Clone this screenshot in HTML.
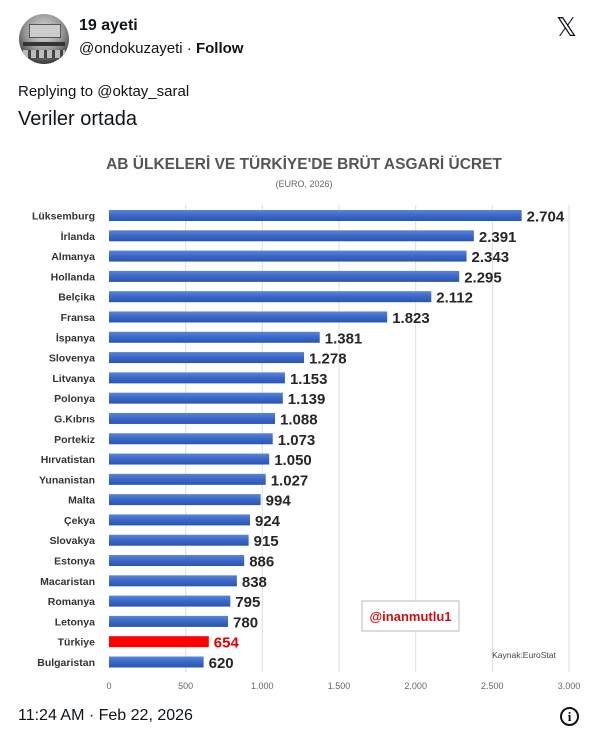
<!DOCTYPE html>
<html><head><meta charset="utf-8"><style>
body{margin:0;width:600px;height:747px;background:#fff;font-family:"Liberation Sans",sans-serif;overflow:hidden;position:relative}
.a{position:absolute;white-space:nowrap;color:#0f1419}
</style></head><body>
<div style="position:absolute;left:19px;top:14px;width:50px;height:50px;border-radius:50%;background:radial-gradient(circle at 50% 35%,#ddd 0,#999 45%,#444 75%,#222 100%);overflow:hidden">
<div style="position:absolute;left:10px;top:10px;width:30px;height:12px;background:#ccc;border:1px solid #555"></div>
<div style="position:absolute;left:4px;top:28px;width:42px;height:4px;background:#333"></div>
<div style="position:absolute;left:4px;top:36px;width:42px;height:8px;background:repeating-linear-gradient(90deg,#bbb 0 5px,#444 5px 8px)"></div>
</div>
<div class="a" style="left:79px;top:17px;font-size:16px;font-weight:bold">19 ayeti</div>
<div class="a" style="left:79px;top:40px;font-size:15px">@ondokuzayeti · <b>Follow</b></div>
<div class="a" style="left:556px;top:12px;font-size:26px">𝕏</div>
<div class="a" style="left:18px;top:83px;font-size:15px">Replying to @oktay_saral</div>
<div class="a" style="left:18px;top:108px;font-size:20px">Veriler ortada</div>
<div class="a" style="left:18px;top:707px;font-size:16px">11:24 AM · Feb 22, 2026</div>
<div style="position:absolute;left:560px;top:707px;width:15px;height:15px;border:2px solid #0f1419;border-radius:50%;text-align:center;font:bold 13px/15px 'Liberation Serif',serif">i</div>
<svg style="position:absolute;left:0;top:0" width="600" height="747" font-family="Liberation Sans, DejaVu Sans, sans-serif">
<defs><linearGradient id="b" x1="0" y1="0" x2="0" y2="1"><stop offset="0" stop-color="#5b85d6"/><stop offset="0.5" stop-color="#3a67c8"/><stop offset="1" stop-color="#2a54b0"/></linearGradient></defs>
<text x="304" y="169" text-anchor="middle" font-size="15.5" font-weight="bold" fill="#555">AB ÜLKELERİ VE TÜRKİYE'DE BRÜT ASGARİ ÜCRET</text>
<text x="304" y="187" text-anchor="middle" font-size="9" fill="#666">(EURO, 2026)</text>
<g stroke="#ddd" stroke-width="1">
<line x1="185.7" y1="205" x2="185.7" y2="672"/><line x1="262.3" y1="205" x2="262.3" y2="672"/><line x1="339" y1="205" x2="339" y2="672"/><line x1="415.7" y1="205" x2="415.7" y2="672"/><line x1="492.3" y1="205" x2="492.3" y2="672"/><line x1="569" y1="205" x2="569" y2="672"/>
</g>
<g font-size="9" fill="#666" text-anchor="middle">
<text x="109" y="689">0</text><text x="185.7" y="689">500</text><text x="262.3" y="689">1.000</text><text x="339" y="689">1.500</text><text x="415.7" y="689">2.000</text><text x="492.3" y="689">2.500</text><text x="569" y="689">3.000</text>
</g>
<g id="rows"></g>
<rect x="362" y="601" width="97" height="30" fill="#fff" stroke="#bbb"/>
<text x="410.5" y="621" text-anchor="middle" font-size="13" font-weight="bold" fill="#d01010">@inanmutlu1</text>
<text x="524" y="658" text-anchor="middle" font-size="8.5" fill="#444">Kaynak:EuroStat</text>
</svg>
<script>
var d=[["Lüksemburg",2704,"2.704"],["İrlanda",2391,"2.391"],["Almanya",2343,"2.343"],["Hollanda",2295,"2.295"],["Belçika",2112,"2.112"],["Fransa",1823,"1.823"],["İspanya",1381,"1.381"],["Slovenya",1278,"1.278"],["Litvanya",1153,"1.153"],["Polonya",1139,"1.139"],["G.Kıbrıs",1088,"1.088"],["Portekiz",1073,"1.073"],["Hırvatistan",1050,"1.050"],["Yunanistan",1027,"1.027"],["Malta",994,"994"],["Çekya",924,"924"],["Slovakya",915,"915"],["Estonya",886,"886"],["Macaristan",838,"838"],["Romanya",795,"795"],["Letonya",780,"780"],["Türkiye",654,"654"],["Bulgaristan",620,"620"]];
var g=document.getElementById("rows"),s="",n=d.length;
for(var i=0;i<n;i++){var y=215.5+i*(446.5/(n-1)),w=d[i][1]*0.1526,t=d[i][0]=="Türkiye";
s+='<text x="95" y="'+(y+4)+'" text-anchor="end" font-size="10.5" font-weight="bold" fill="#333">'+d[i][0]+'</text>';
s+='<rect x="109" y="'+(y-5.5)+'" width="'+w+'" height="11" fill="'+(t?'#ff0000':'url(#b)')+'"/>';
s+='<text x="'+(109+w+5)+'" y="'+(y+6)+'" font-size="15" font-weight="bold" fill="'+(t?'#e00000':'#262626')+'">'+d[i][2]+'</text>';}
g.innerHTML=s;
</script>
</body></html>
